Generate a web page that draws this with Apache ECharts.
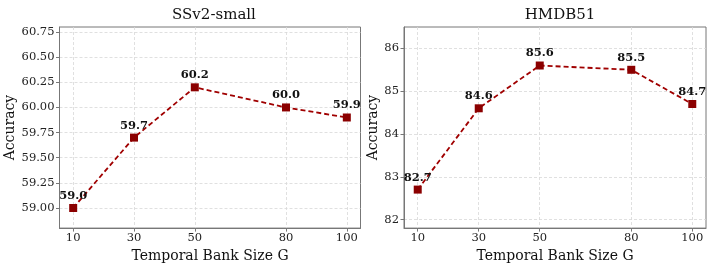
<!DOCTYPE html>
<html>
<head>
<meta charset="utf-8">
<script src="https://cdn.jsdelivr.net/npm/echarts@6/dist/echarts.min.js"></script>
<style>html,body{margin:0;padding:0;background:#fff}#c{width:714px;height:268px}</style>
</head>
<body>
<div id="c"></div>
<script>
const bankSizes = [10, 30, 50, 80, 100];
const ssv2Acc = [59.0, 59.7, 60.2, 60.0, 59.9];
const hmdbAcc = [82.7, 84.6, 85.6, 85.5, 84.7];
const ssv2Ticks = [59.00, 59.25, 59.50, 59.75, 60.00, 60.25, 60.50, 60.75];
const hmdbTicks = [82, 83, 84, 85, 86];
const titles = ['SSv2-small', 'HMDB51'];

const FONT = 'DejaVu Serif';
const pair = (xs, ys) => xs.map((x, i) => [x, ys[i]]);

function xAx(idx) {
  return {
    type: 'value', gridIndex: idx, min: 5.5, max: 104.5,
    name: 'Temporal Bank Size G', nameLocation: 'middle', nameGap: 15,
    nameTextStyle: { fontFamily: FONT, fontSize: 14, color: '#111' },
    axisLine: { show: true, onZero: false, lineStyle: { color: '#777', width: 1 } },
    axisTick: { show: true, length: 3.5, customValues: bankSizes, lineStyle: { color: '#777' } },
    axisLabel: { customValues: bankSizes, margin: 4, fontFamily: FONT, fontSize: 11.5, color: '#222' },
    splitLine: { show: true, customValues: bankSizes, lineStyle: { color: '#d8d8d8', type: [3, 2], width: 0.8 } }
  };
}
function yAx(idx, min, max, ticks, dec) {
  return {
    type: 'value', gridIndex: idx, min: min, max: max,
    name: 'Accuracy', nameLocation: 'middle', nameGap: dec ? 37 : 23,
    nameTextStyle: { fontFamily: FONT, fontSize: 14, color: '#111' },
    axisLine: { show: true, lineStyle: { color: '#777', width: 1 } },
    axisTick: { show: true, length: 3.5, customValues: ticks, lineStyle: { color: '#777' } },
    axisLabel: { customValues: ticks, margin: 5, fontFamily: FONT, fontSize: 11.5, color: '#222',
      formatter: v => v.toFixed(dec) },
    splitLine: { show: true, customValues: ticks, lineStyle: { color: '#d8d8d8', type: [3, 2], width: 0.8 } }
  };
}
function ser(idx, ys) {
  return {
    type: 'line', xAxisIndex: idx, yAxisIndex: idx,
    data: pair(bankSizes, ys),
    symbol: 'rect', symbolSize: 8,
    itemStyle: { color: '#8B0000' },
    lineStyle: { color: '#A00000', width: 1.8, type: [5, 3] },
    label: { show: true, position: 'top', distance: 2, fontFamily: FONT, fontWeight: 'bold',
      fontSize: 11.5, color: '#111', formatter: p => p.value[1].toFixed(1) },
    z: 5
  };
}

const chart = echarts.init(document.getElementById('c'), null, { renderer: 'canvas' });
chart.setOption({
  animation: false,
  backgroundColor: '#fff',
  title: [
    { text: titles[0], left: 209, top: 3, textAlign: 'center', textStyle: { fontFamily: FONT, fontSize: 15, fontWeight: 'normal', color: '#111' } },
    { text: titles[1], left: 555, top: 3, textAlign: 'center', textStyle: { fontFamily: FONT, fontSize: 15, fontWeight: 'normal', color: '#111' } }
  ],
  grid: [
    { left: 59.5, top: 27, width: 301, height: 204, show: true, borderColor: '#777', borderWidth: 1, backgroundColor: 'transparent' },
    { left: 404, top: 27, width: 302, height: 204, show: true, borderColor: '#777', borderWidth: 1, backgroundColor: 'transparent' }
  ],
  xAxis: [xAx(0), xAx(1)],
  yAxis: [yAx(0, 58.8, 60.8, ssv2Ticks, 2), yAx(1, 81.8, 86.5, hmdbTicks, 0)],
  series: [ser(0, ssv2Acc), ser(1, hmdbAcc)]
});
</script>
</body>
</html>
